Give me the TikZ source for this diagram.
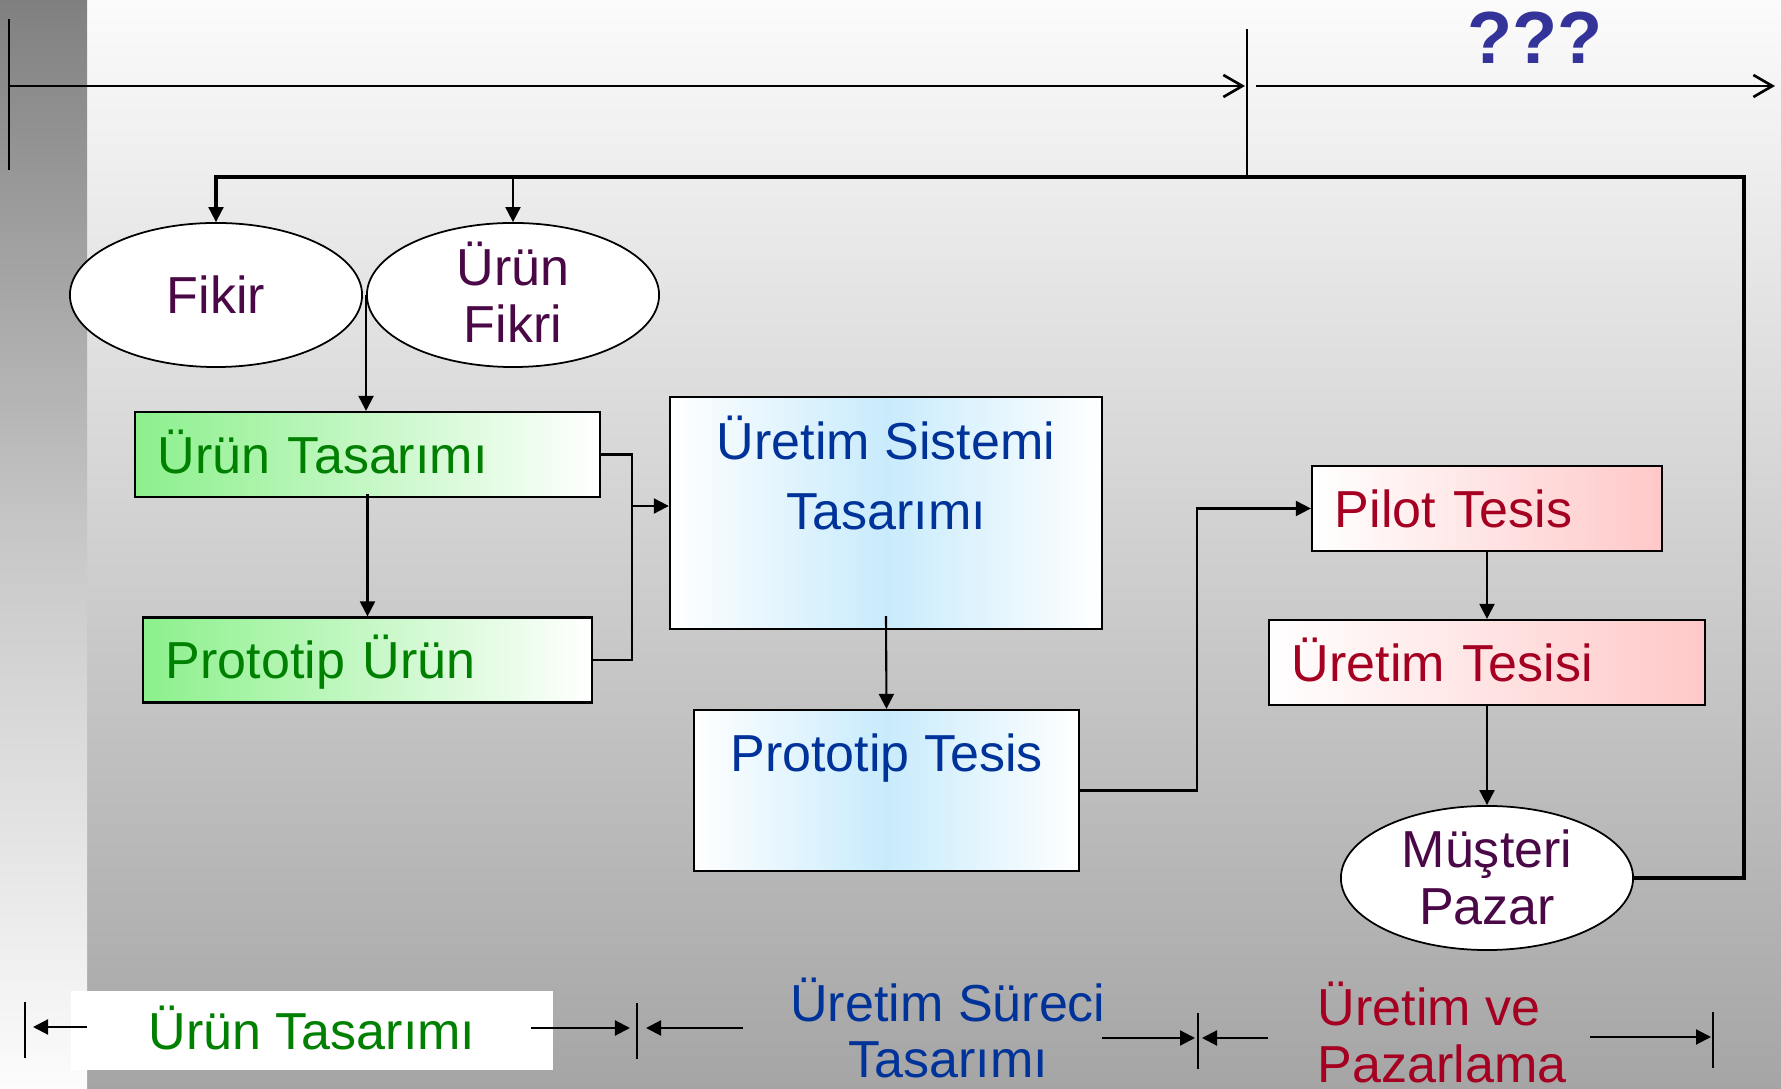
\documentclass[tikz,border=0pt]{standalone}
\usepackage{fontspec}
\setmainfont{Liberation Sans}
\usetikzlibrary{arrows.meta,shapes.geometric}

\definecolor{ideapurple}{RGB}{75,8,70}
\definecolor{prodgreen}{RGB}{0,128,0}
\definecolor{boxgreen}{RGB}{140,240,140}
\definecolor{procblue}{RGB}{0,51,153}
\definecolor{boxblue}{RGB}{200,235,252}
\definecolor{plantred}{RGB}{165,0,33}
\definecolor{boxpink}{RGB}{255,200,200}
\definecolor{qblue}{RGB}{51,51,153}
\definecolor{bgtop}{RGB}{251,251,251}
\definecolor{bgbottom}{RGB}{165,165,165}
\definecolor{striptop}{RGB}{128,128,128}
\definecolor{stripmid}{RGB}{200,200,200}
\definecolor{stripbottom}{RGB}{252,252,252}

\begin{document}
\begin{tikzpicture}[x=0.01cm,y=-0.01cm,
  >={Triangle[length=1.5mm,width=1.5mm]},
  every node/.style={font=\fontsize{14.8pt}{16.2pt}\selectfont,inner sep=0pt},
  idea/.style={ellipse,draw,line width=0.5pt,fill=white,text=ideapurple,align=center,
    minimum width=2.92cm,minimum height=1.44cm,text height=0.37cm,text depth=0cm},
  prodbox/.style={draw,line width=0.6pt,left color=boxgreen,right color=white,text=prodgreen,
    align=left,inner xsep=0.23cm,minimum height=0.85cm,text height=0.37cm,text depth=0cm},
  procbox/.style={draw,line width=0.6pt,left color=white,right color=white,middle color=boxblue,
    text=procblue,align=center,inner ysep=0.25cm,text height=0.37cm,
    font=\fontsize{14.8pt}{19.9pt}\selectfont},
  plantbox/.style={draw,line width=0.6pt,left color=white,right color=boxpink,text=plantred,
    align=left,inner xsep=0.23cm,minimum height=0.85cm,text height=0.37cm,text depth=0cm},
  link/.style={line width=0.6pt},
  feedback/.style={line width=0.95pt},
  axis/.style={line width=0.75pt,-{Straight Barb[length=1.9mm,width=2.2mm]}},
  tick/.style={line width=0.45pt},
  span/.style={line width=0.6pt,->}]
\useasboundingbox (0,0) rectangle (1781,1089);

% background
\shade[top color=bgtop,bottom color=bgbottom] (87,0) rectangle (1781,1089);
\shade[top color=striptop,bottom color=stripbottom,middle color=stripmid] (0,0) rectangle (87,1089);

% time line
\coordinate (start) at (9,86);
\coordinate (divtop) at (1247,29);
\coordinate (divbot) at (1247,179);
\coordinate (futend) at (1775,86);
\draw[tick,line width=0.6pt] (start) ++(0,-67) -- ++(0,151);
\draw[tick,line width=0.6pt] (divtop) -- (divbot);
\draw[axis] (start) -- ([xshift=-0.02cm]start -| divtop);
\draw[axis] ([xshift=0.09cm]start -| divtop) -- (futend);
\node[text=qblue,font=\fontsize{21pt}{24pt}\selectfont\bfseries,text height=0.53cm,text depth=0cm] (unknown) at (1535,36.5) {???};

% nodes
\node[idea] (fikir) at (216,295) {Fikir};
\node[idea,text height=0.94cm] (urunfikri) at (513,295) {Ürün\\Fikri};
\node[prodbox,text width=4.19cm] (urtas) at (367.5,454.5) {Ürün Tasarımı};
\node[prodbox,text width=4.03cm] (protourun) at (367.5,660) {Prototip Ürün};
\node[procbox,minimum width=4.32cm,text height=1.07cm,text depth=0.75cm] (sistem) at (886,513) {Üretim Sistemi\\Tasarımı};
\node[procbox,minimum width=3.85cm,text depth=0.74cm] (prototes) at (886.5,790.5) {Prototip Tesis};
\node[plantbox,text width=3.04cm] (pilot) at (1487,508.5) {Pilot Tesis};
\node[plantbox,text width=3.90cm] (uretes) at (1487,662.5) {Üretim Tesisi};
\node[idea,text height=0.93cm] (musteri) at (1487,878) {Müşteri\\Pazar};

% links
\coordinate (join) at (632,506);
\coordinate (back) at (1744,177);
\draw[link,->] (urunfikri.west) -- (urunfikri.west |- urtas.north);
\draw[link,->] ([yshift=0.04cm]urtas.south) -- (protourun.north);
\draw[link] (urtas.east) -| (join) |- (protourun.east);
\draw[link,->] (join) -- (join -| sistem.west);
\draw[link,->] ([yshift=0.14cm]sistem.south) -- (prototes.north);
\draw[link,->] (prototes.east) -- ++(117,0) |- (pilot.west);
\draw[link,->] (pilot.south) -- (uretes.north);
\draw[link,->] (uretes.south) -- (musteri.north);
\draw[feedback] (musteri.east) -| (back) -| ([yshift=0.1cm]fikir.north);
\draw[link,->] ([yshift=0.1cm]fikir.north) -- (fikir.north);
\draw[link,->] (urunfikri.north |- back) -- (urunfikri.north);

% phases
\node[fill=white,text=prodgreen,minimum width=4.82cm,minimum height=0.79cm,
  text height=0.37cm,text depth=0cm] (urunlbl) at (312,1030.5) {Ürün Tasarımı};
\node[text=procblue,align=center,text height=0.93cm,text depth=0cm,
  font=\fontsize{14.8pt}{15.9pt}\selectfont] (surecilbl) at (948,1031) {Üretim Süreci\\Tasarımı};
\node[text=plantred,align=left,anchor=west,text height=0.94cm,text depth=0cm] (pazarlbl) at (1317,1035) {Üretim ve\\Pazarlama};

\coordinate (t0) at (25,1027);
\coordinate (t1) at (637,1028);
\coordinate (t2) at (1198,1038);
\coordinate (t3) at (1713,1037);
\foreach \t in {t0,t1,t2,t3}
  \draw[tick] (\t) ++(0,-25) -- ++(0,56);
\draw[span] ([xshift=0.62cm]t0) -- ([xshift=0.08cm]t0);
\draw[span] ([xshift=-1.06cm]t1) -- ([xshift=-0.07cm]t1);
\draw[span] ([xshift=1.06cm]t1) -- ([xshift=0.09cm]t1);
\draw[span] ([xshift=-0.96cm]t2) -- ([xshift=-0.03cm]t2);
\draw[span] ([xshift=0.70cm]t2) -- ([xshift=0.04cm]t2);
\draw[span] ([xshift=-1.23cm]t3) -- ([xshift=-0.02cm]t3);
\end{tikzpicture}
\end{document}
